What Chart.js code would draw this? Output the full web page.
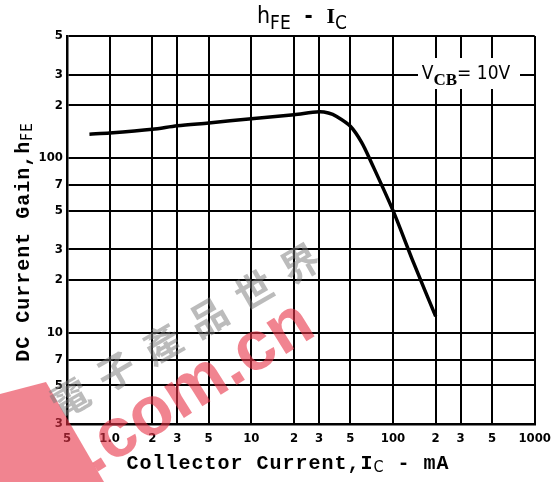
<!DOCTYPE html>
<html>
<head>
<meta charset="utf-8">
<script src="https://cdn.jsdelivr.net/npm/chart.js@4"></script>
<style>
  body { margin: 0; background: #fff; }
  #wrap { width: 558px; height: 482px; position: relative; }
</style>
</head>
<body>
<div id="wrap"><canvas id="canvas_hfe"></canvas></div>
<script>
// collector current (mA) and dc current gain
const icValues  = [0.72, 1, 2, 3, 5, 10, 20, 30, 35, 40, 50, 60, 70, 100, 140, 200];
const hfeValues = [137, 139, 146, 153, 159, 168, 177, 184, 181, 173, 152, 123, 95, 50, 25, 12.4];

const xTicks = [0.5, 1, 2, 3, 5, 10, 20, 30, 50, 100, 200, 300, 500, 1000];
const xTickLabels = ['5', '1.0', '2', '3', '5', '10', '2', '3', '5', '100', '2', '3', '5', '1000'];
const yTicks = [3, 5, 7, 10, 20, 30, 50, 70, 100, 200, 300, 500];
const yTickLabels = ['3', '5', '7', '10', '2', '3', '5', '7', '100', '2', '3', '5'];

const tickFont = { family: "'DejaVu Sans Condensed', 'Liberation Sans'", size: 13, weight: 'bold' };
const mono = "'Liberation Mono', 'DejaVu Sans Mono', monospace";
const cond = "'DejaVu Sans Condensed', 'Liberation Sans'";

// draw a run of text pieces [text, font, dy] centred on x
function drawParts(ctx, parts, x, y) {
    let total = 0;
    parts.forEach(p => { ctx.font = p[1]; total += ctx.measureText(p[0]).width; });
    let cx = x - total / 2;
    parts.forEach(p => {
        ctx.font = p[1];
        ctx.fillText(p[0], cx, y + p[2]);
        cx += ctx.measureText(p[0]).width;
    });
}

const labelsPlugin = {
    id: 'labels',
    beforeDatasetsDraw(chart) {
        const ctx = chart.ctx;
        ctx.save();
        // white patch behind the condition label
        ctx.fillStyle = '#fff';
        ctx.fillRect(418, 58, 102, 31);
        ctx.fillStyle = '#000';
        ctx.textBaseline = 'alphabetic';
        drawParts(ctx, [
            ['V', '19px ' + cond, 0],
            ['CB', "bold 17px 'Liberation Serif'", 6],
            ['= 10V', '19px ' + cond, 0]
        ], 466, 79);
        ctx.restore();
    },
    afterDraw(chart) {
        const ctx = chart.ctx;
        ctx.save();
        ctx.fillStyle = '#000';
        ctx.textBaseline = 'alphabetic';
        // title
        drawParts(ctx, [
            ['h', '23px ' + cond, 0],
            ['FE', '19px ' + cond, 6],
            ['  -  ', 'bold 22px ' + cond, 0],
            ['I', "bold 22px 'Liberation Serif'", 0],
            ['C', '19px ' + cond, 6]
        ], 302, 23);
        // x axis title
        ctx.letterSpacing = '1px';
        drawParts(ctx, [
            ['Collector Current,I', 'bold 20px ' + mono, 0],
            ['C', '16px ' + cond, 3],
            [' - mA', 'bold 20px ' + mono, 0]
        ], 288, 469);
        // y axis title
        ctx.translate(29, 242);
        ctx.rotate(-Math.PI / 2);
        drawParts(ctx, [
            ['DC Current Gain,h', 'bold 20px ' + mono, 0],
            ['FE', '15px ' + cond, 3]
        ], 0, 0);
        ctx.restore();

        // watermark
        ctx.save();
        ctx.fillStyle = 'rgba(232, 50, 70, 0.6)';
        ctx.beginPath();
        ctx.moveTo(0, 394);
        ctx.lineTo(46, 382);
        ctx.lineTo(104, 482);
        ctx.lineTo(0, 482);
        ctx.closePath();
        ctx.fill();
        ctx.translate(94, 474);
        ctx.rotate(-32 * Math.PI / 180);
        ctx.font = "bold 70px 'Liberation Sans'";
        ctx.fillText('.com.cn', 0, 0);
        ctx.restore();

        ctx.save();
        ctx.fillStyle = 'rgba(120, 120, 120, 0.5)';
        ctx.font = "bold 38px 'Noto Sans CJK TC'";
        ctx.textAlign = 'center';
        ctx.textBaseline = 'middle';
        const chars = '電子產品世界';
        for (let i = 0; i < chars.length; i++) {
            const px = 70 + i * 46;
            const py = 398 - i * 27;
            ctx.save();
            ctx.translate(px, py);
            ctx.rotate(-30 * Math.PI / 180);
            ctx.fillText(chars[i], 0, 0);
            ctx.restore();
        }
        ctx.restore();
    }
};

const ctx01 = document.getElementById('canvas_hfe');

new Chart(ctx01, {
    type: 'line',
    data: {
        datasets: [{
            data: icValues.map((v, i) => ({ x: v, y: hfeValues[i] })),
            borderColor: '#000',
            borderWidth: 3.5,
            pointRadius: 0,
            tension: 0.3,
            fill: false
        }]
    },
    options: {
        responsive: true,
        maintainAspectRatio: false,
        animation: false,
        layout: { padding: { top: 36, right: 20, left: 0, bottom: 0 } },
        plugins: {
            legend: { display: false },
            tooltip: { enabled: false },
            title: { display: false }
        },
        scales: {
            x: {
                type: 'logarithmic',
                min: 0.5,
                max: 1000,
                afterBuildTicks: s => { s.ticks = xTicks.map(v => ({ value: v })); },
                afterFit: s => { s.height = 58; },
                grid: { color: '#000', lineWidth: 2, drawTicks: false },
                border: { color: '#000', width: 2.5 },
                ticks: {
                    autoSkip: false,
                    maxRotation: 0,
                    padding: 7,
                    color: '#000',
                    font: tickFont,
                    callback: (v, i) => xTickLabels[i]
                }
            },
            y: {
                type: 'logarithmic',
                min: 3,
                max: 500,
                afterBuildTicks: s => { s.ticks = yTicks.map(v => ({ value: v })); },
                afterFit: s => { s.width = 67; },
                grid: { color: '#000', lineWidth: 2, drawTicks: false },
                border: { color: '#000', width: 2.5 },
                ticks: {
                    autoSkip: false,
                    padding: 4,
                    color: '#000',
                    font: tickFont,
                    callback: (v, i) => yTickLabels[i]
                }
            }
        }
    },
    plugins: [labelsPlugin]
});
</script>
</body>
</html>
